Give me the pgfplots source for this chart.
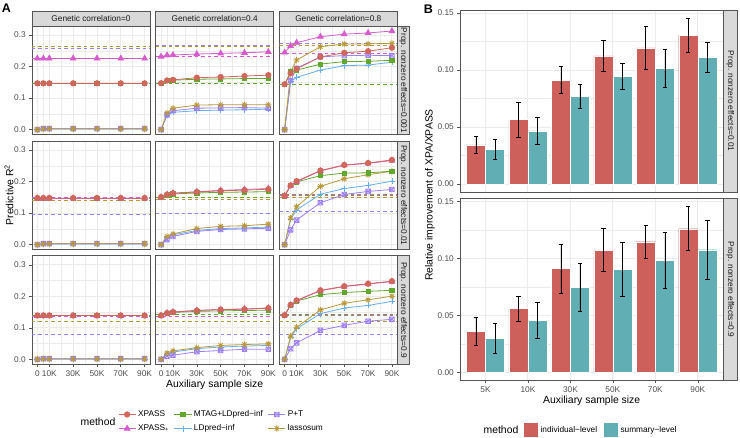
\documentclass[border=0pt]{standalone}
\usepackage{pgfplots}
\usepackage{pgfplotstable}
\pgfplotsset{compat=1.18}
\usepackage{fontspec}
\setmainfont{Liberation Sans}

\definecolor{cXP}{RGB}{208,103,92}
\definecolor{cXPp}{RGB}{214,92,205}
\definecolor{cMT}{RGB}{98,167,46}
\definecolor{cLD}{RGB}{100,176,240}
\definecolor{cPT}{RGB}{156,126,246}
\definecolor{cLS}{RGB}{184,152,56}
\definecolor{gridc}{RGB}{235,235,235}
\definecolor{framec}{RGB}{85,85,85}
\definecolor{stripc}{RGB}{217,217,217}
\definecolor{tickc}{RGB}{77,77,77}
\definecolor{barR}{RGB}{205,96,91}
\definecolor{barT}{RGB}{97,174,181}

\pgfdeclareplotmark{boxx}{%
  \pgfpathrectangle{\pgfpoint{-\pgfplotmarksize}{-\pgfplotmarksize}}{\pgfpoint{2\pgfplotmarksize}{2\pgfplotmarksize}}%
  \pgfpathmoveto{\pgfpoint{-\pgfplotmarksize}{-\pgfplotmarksize}}\pgfpathlineto{\pgfpoint{\pgfplotmarksize}{\pgfplotmarksize}}%
  \pgfpathmoveto{\pgfpoint{-\pgfplotmarksize}{\pgfplotmarksize}}\pgfpathlineto{\pgfpoint{\pgfplotmarksize}{-\pgfplotmarksize}}%
  \pgfusepathqstroke}
\pgfdeclareplotmark{star8}{%
  \pgfpathmoveto{\pgfpoint{-\pgfplotmarksize}{0pt}}\pgfpathlineto{\pgfpoint{\pgfplotmarksize}{0pt}}%
  \pgfpathmoveto{\pgfpoint{0pt}{-\pgfplotmarksize}}\pgfpathlineto{\pgfpoint{0pt}{\pgfplotmarksize}}%
  \pgfpathmoveto{\pgfpoint{-.7\pgfplotmarksize}{-.7\pgfplotmarksize}}\pgfpathlineto{\pgfpoint{.7\pgfplotmarksize}{.7\pgfplotmarksize}}%
  \pgfpathmoveto{\pgfpoint{-.7\pgfplotmarksize}{.7\pgfplotmarksize}}\pgfpathlineto{\pgfpoint{.7\pgfplotmarksize}{-.7\pgfplotmarksize}}%
  \pgfusepathqstroke}

% panel A data: x in thousands
\pgfplotstableread{
x xp xpp mt ld pt ls
0 0.147 0.226 0.147 0.000 0.000 0.000
5 0.147 0.226 0.147 0.002 0.003 0.002
10 0.147 0.226 0.147 0.002 0.003 0.003
30 0.147 0.226 0.147 0.002 0.003 0.003
50 0.147 0.226 0.147 0.002 0.003 0.003
70 0.147 0.226 0.147 0.002 0.003 0.003
90 0.147 0.226 0.147 0.002 0.003 0.003
}\taa
\pgfplotstableread{
x xp xpp mt ld pt ls
0 0.1475 0.232 0.1475 0 0 0
5 0.156 0.236 0.155 0.045 0.047 0.053
10 0.158 0.237 0.157 0.055 0.060 0.068
30 0.165 0.240 0.160 0.060 0.068 0.078
50 0.167 0.242 0.161 0.062 0.069 0.079
70 0.170 0.244 0.162 0.063 0.070 0.079
90 0.173 0.247 0.162 0.065 0.068 0.079
}\tab
\pgfplotstableread{
x xp xpp mt ld pt ls
0 0.144 0.245 0.144 0 0 0
5 0.179 0.266 0.184 0.153 0.155 0.184
10 0.193 0.276 0.189 0.166 0.195 0.221
30 0.231 0.295 0.208 0.189 0.231 0.263
50 0.244 0.303 0.216 0.203 0.235 0.272
70 0.249 0.307 0.217 0.205 0.236 0.272
90 0.260 0.313 0.220 0.214 0.235 0.274
}\tac
\pgfplotstableread{
x xp xpp mt ld pt ls
0 0.148 0.147 0.147 0.000 0.000 0.000
5 0.148 0.147 0.147 0.002 0.003 0.002
10 0.148 0.147 0.147 0.002 0.003 0.003
30 0.148 0.147 0.147 0.002 0.003 0.003
50 0.148 0.147 0.147 0.002 0.003 0.003
70 0.148 0.147 0.147 0.002 0.003 0.003
90 0.148 0.147 0.147 0.002 0.003 0.003
}\tba
\pgfplotstableread{
x xp xpp mt ld pt ls
0 0.151 0.151 0.151 0 0 0
5 0.159 0.159 0.158 0.022 0.016 0.026
10 0.163 0.163 0.161 0.031 0.026 0.034
30 0.167 0.168 0.164 0.045 0.042 0.051
50 0.171 0.172 0.166 0.051 0.048 0.058
70 0.173 0.175 0.167 0.053 0.050 0.060
90 0.176 0.178 0.168 0.056 0.052 0.065
}\tbb
\pgfplotstableread{
x xp xpp mt ld pt ls
0 0.155 0.155 0.155 0 0 0
5 0.188 0.187 0.187 0.080 0.047 0.084
10 0.2015 0.200 0.199 0.110 0.078 0.120
30 0.235 0.234 0.219 0.160 0.133 0.185
50 0.253 0.252 0.227 0.178 0.159 0.209
70 0.259 0.258 0.228 0.188 0.169 0.222
90 0.269 0.267 0.233 0.2015 0.175 0.233
}\tbc
\pgfplotstableread{
x xp xpp mt ld pt ls
0 0.139 0.138 0.139 0.000 0.000 0.000
5 0.139 0.138 0.139 0.001 0.002 0.001
10 0.139 0.138 0.139 0.001 0.002 0.001
30 0.139 0.138 0.139 0.001 0.002 0.001
50 0.139 0.138 0.139 0.001 0.002 0.001
70 0.139 0.138 0.139 0.001 0.002 0.001
90 0.139 0.138 0.139 0.001 0.002 0.001
}\tca
\pgfplotstableread{
x xp xpp mt ld pt ls
0 0.139 0.139 0.139 0 0 0
5 0.147 0.147 0.146 0.016 0.010 0.020
10 0.150 0.150 0.149 0.023 0.013 0.027
30 0.155 0.155 0.152 0.034 0.024 0.037
50 0.158 0.158 0.154 0.039 0.028 0.044
70 0.159 0.160 0.155 0.042 0.032 0.047
90 0.1625 0.163 0.156 0.044 0.032 0.049
}\tcb
\pgfplotstableread{
x xp xpp mt ld pt ls
0 0.140 0.140 0.140 0 0 0
5 0.173 0.172 0.172 0.070 0.034 0.073
10 0.187 0.186 0.185 0.097 0.052 0.102
30 0.219 0.218 0.205 0.145 0.092 0.157
50 0.232 0.231 0.212 0.163 0.108 0.178
70 0.240 0.239 0.216 0.171 0.121 0.189
90 0.248 0.247 0.219 0.184 0.127 0.2005
}\tcc

\pgfplotsset{
  gg/.style={scale only axis, anchor=north west, grid=both,
    major grid style={draw=gridc, line width=0.9pt},
    minor grid style={draw=gridc, line width=0.45pt},
    axis line style={draw=framec, line width=0.6pt},
    tick align=outside, major tick length=2.7pt, minor tick length=0pt,
    tick style={draw=framec, line width=0.6pt},
    xtick pos=left, ytick pos=left,
    tick label style={font=\fontsize{8.3}{9}\selectfont, text=tickc},
    /pgf/number format/assume math mode=true},
  pA/.style={gg, width=118pt, height=108.6pt,
    xmin=-4.5, xmax=94.5, ymin=-0.0158, ymax=0.329,
    xtick={0,10,30,50,70,90}, minor xtick={5,20,40,60,80},
    ytick={0,0.1,0.2,0.3}, minor ytick={0.05,0.15,0.25},
    xticklabels={0,10K,30K,50K,70K,90K}, yticklabels={0.0,0.1,0.2,0.3}},
  pB/.style={gg, width=263.3pt, height=182pt,
    xmin=0.4, xmax=6.6, ymin=-0.007, ymax=0.1526,
    xtick={1,2,3,4,5,6}, xticklabels={5K,10K,30K,50K,70K,90K},
    ytick={0,0.05,0.1,0.15}, yticklabels={0.00,0.05,0.10,0.15},
    minor ytick={0.025,0.075,0.125}},
  nox/.style={xticklabels={}, xmajorticks=false},
  noy/.style={yticklabels={}, ymajorticks=false},
  ln/.style={line width=0.8pt, mark options={solid}},
  sXP/.style={ln, color=cXP, mark=*, mark size=2.7pt},
  sXPp/.style={ln, color=cXPp, mark=triangle*, mark size=3.2pt},
  sMT/.style={ln, color=cMT, mark=square*, mark size=2.1pt},
  sLD/.style={ln, color=cLD, mark=+, mark size=3pt},
  sPT/.style={ln, color=cPT, mark=boxx, mark size=2.3pt},
  sLS/.style={ln, color=cLS, mark=star8, mark size=3.1pt},
  dl/.style={line width=0.75pt, dash pattern=on 3.5pt off 3pt, forget plot},
  bE/.style={error bars/y dir=both, error bars/y explicit,
    error bars/error bar style={black, line width=0.7pt},
    error bars/error mark options={black, line width=0.7pt, mark size=2.2pt, rotate=90}},
  bR/.style={ybar, bar width=0.45, bar shift=0, fill=barR, draw=white, line width=0.4pt, bE},
  bT/.style={bR, fill=barT},
}

\newcommand\series[1]{%
  \addplot[sLD] table[x=x,y=ld]{#1};
  \addplot[sPT] table[x=x,y=pt]{#1};
  \addplot[sLS] table[x=x,y=ls]{#1};
  \addplot[sMT] table[x=x,y=mt]{#1};
  \addplot[sXPp] table[x=x,y=xpp]{#1};
  \addplot[sXP] table[x=x,y=xp]{#1};}
\newcommand\hl[4]{%
  \addplot[dl, cPT] coordinates {(-4.5,#4) (94.5,#4)};
  \addplot[dl, cLS] coordinates {(-4.5,#3) (94.5,#3)};
  \addplot[dl, cXPp] coordinates {(-4.5,#2) (94.5,#2)};
  \addplot[dl, cMT] coordinates {(-4.5,#1) (94.5,#1)};}

\tikzset{
  strip/.style={fill=stripc, draw=framec, line width=0.6pt},
  stxt/.style={font=\fontsize{8.3}{9}\selectfont, text=black!90},
  ttl/.style={font=\fontsize{10.4}{12}\selectfont},
}

\begin{document}
\begin{tikzpicture}
\useasboundingbox (0pt,0pt) rectangle (740pt,-438pt);

% ---------- panel A ----------
\begin{axis}[pA, nox, at={(32pt,-26pt)}]
\hl{0.147}{0.227}{0.264}{0.259}\series{\taa}
\end{axis}
\begin{axis}[pA, nox, noy, at={(155.7pt,-26pt)}]
\hl{0.147}{0.231}{0.263}{0.268}\series{\tab}
\end{axis}
\begin{axis}[pA, nox, noy, at={(279.3pt,-26pt)}]
\hl{0.144}{0.242}{0.266}{0.274}\series{\tac}
\end{axis}

\begin{axis}[pA, nox, at={(32pt,-141pt)}]
\hl{0.147}{0.149}{0.141}{0.097}\series{\tba}
\end{axis}
\begin{axis}[pA, nox, noy, at={(155.7pt,-141pt)}]
\hl{0.150}{0.151}{0.143}{0.100}\series{\tbb}
\end{axis}
\begin{axis}[pA, nox, noy, at={(279.3pt,-141pt)}]
\hl{0.155}{0.158}{0.150}{0.104}\series{\tbc}
\end{axis}

\begin{axis}[pA, at={(32pt,-255.7pt)}]
\hl{0.139}{0.137}{0.120}{0.078}\series{\tca}
\end{axis}
\begin{axis}[pA, noy, at={(155.7pt,-255.7pt)}]
\hl{0.1415}{0.136}{0.120}{0.078}\series{\tcb}
\end{axis}
\begin{axis}[pA, noy, at={(279.3pt,-255.7pt)}]
\hl{0.1415}{0.139}{0.120}{0.078}\series{\tcc}
\end{axis}

% strips A
\draw[strip] (32pt,-11pt) rectangle (150pt,-26pt);
\node[stxt] at (91pt,-18.5pt) {Genetic correlation=0};
\draw[strip] (155.7pt,-11pt) rectangle (273.7pt,-26pt);
\node[stxt] at (214.7pt,-18.5pt) {Genetic correlation=0.4};
\draw[strip] (279.3pt,-11pt) rectangle (397.3pt,-26pt);
\node[stxt] at (338.3pt,-18.5pt) {Genetic correlation=0.8};
\draw[strip] (397.3pt,-26pt) rectangle (409.3pt,-134.6pt);
\node[stxt, rotate=-90] at (403.3pt,-80.3pt) {Prop. nonzero effects=0.001};
\draw[strip] (397.3pt,-141pt) rectangle (409.3pt,-249.6pt);
\node[stxt, rotate=-90] at (403.3pt,-195.3pt) {Prop. nonzero effects=0.01};
\draw[strip] (397.3pt,-255.7pt) rectangle (409.3pt,-364.3pt);
\node[stxt, rotate=-90] at (403.3pt,-310pt) {Prop. nonzero effects=0.9};

\node[ttl, rotate=90] at (9pt,-195pt) {Predictive R\textsuperscript{2}};
\node[ttl] at (214.7pt,-385pt) {Auxiliary sample size};
\node[font=\fontsize{12.5}{14}\selectfont\bfseries] at (6.5pt,-8.5pt) {A};

% legend A
\node[ttl] at (98pt,-422pt) {method};
\begin{axis}[hide axis, scale only axis, width=1pt, height=1pt, anchor=south west,
  at={(118pt,-421.5pt)}, xmin=0, xmax=1, ymin=0, ymax=1, legend columns=3,
  legend style={at={(0,0)}, anchor=west, draw=none, fill=none, inner sep=0pt,
    font=\fontsize{8.3}{9}\selectfont, row sep=2.5pt,
    /tikz/every even column/.append style={column sep=3pt}},
  legend cell align=left]
\addlegendimage{sXP}\addlegendentry{XPASS}
\addlegendimage{sMT}\addlegendentry{MTAG+LDpred−inf}
\addlegendimage{sPT}\addlegendentry{P+T}
\addlegendimage{sXPp}\addlegendentry{XPASS\textsubscript{+}}
\addlegendimage{sLD}\addlegendentry{LDpred−inf}
\addlegendimage{sLS}\addlegendentry{lassosum}
\end{axis}

% ---------- panel B ----------
% bars sit at category -/+ 0.225 (dodged), categories at 1..6
\begin{axis}[pB, nox, at={(460pt,-10pt)}]
\addplot[bR] coordinates {(0.775,0.0344) +- (0,0.0071) (1.775,0.0565) +- (0,0.0153) (2.775,0.0912) +- (0,0.0119)
  (3.775,0.1124) +- (0,0.0133) (4.775,0.1194) +- (0,0.0191) (5.775,0.1306) +- (0,0.0149)};
\addplot[bT] coordinates {(1.225,0.0303) +- (0,0.0088) (2.225,0.0465) +- (0,0.0120) (3.225,0.0768) +- (0,0.0106)
  (4.225,0.0944) +- (0,0.0115) (5.225,0.1015) +- (0,0.0166) (6.225,0.1112) +- (0,0.0132)};
\end{axis}
\begin{axis}[pB, at={(460pt,-198.5pt)}]
\addplot[bR] coordinates {(0.775,0.0359) +- (0,0.0123) (1.775,0.0560) +- (0,0.0112) (2.775,0.0911) +- (0,0.0215)
  (3.775,0.1074) +- (0,0.0187) (4.775,0.1147) +- (0,0.0145) (5.775,0.1261) +- (0,0.0193)};
\addplot[bT] coordinates {(1.225,0.0300) +- (0,0.0134) (2.225,0.0455) +- (0,0.0157) (3.225,0.0747) +- (0,0.0210)
  (4.225,0.0905) +- (0,0.0235) (5.225,0.0981) +- (0,0.0247) (6.225,0.1077) +- (0,0.0260)};
\end{axis}

\draw[strip] (723.3pt,-10pt) rectangle (737pt,-192pt);
\node[stxt, rotate=-90] at (730.2pt,-101pt) {Prop. nonzero effects=0.01};
\draw[strip] (723.3pt,-198.5pt) rectangle (737pt,-380.5pt);
\node[stxt, rotate=-90] at (730.2pt,-289.5pt) {Prop. nonzero effects=0.9};

\node[ttl, rotate=90] at (430pt,-195pt) {Relative improvement of XPA/XPASS};
\node[ttl] at (591.7pt,-401pt) {Auxiliary sample size};
\node[font=\fontsize{12.5}{14}\selectfont\bfseries] at (428.5pt,-9pt) {B};

% legend B
\node[ttl] at (501pt,-430pt) {method};
\begin{axis}[hide axis, scale only axis, width=1pt, height=1pt, anchor=south west,
  at={(523pt,-430pt)}, xmin=0, xmax=1, ymin=0, ymax=1, legend columns=2,
  legend style={at={(0,0)}, anchor=west, draw=none, fill=none, inner sep=0pt,
    font=\fontsize{8.3}{9}\selectfont,
    /tikz/every even column/.append style={column sep=4pt}},
  legend cell align=left]
\addlegendimage{legend image code/.code={\draw[fill=barR, draw=white, line width=0.4pt] (0pt,-7.5pt) rectangle (15pt,7.5pt);}}
\addlegendentry{individual−level}
\addlegendimage{legend image code/.code={\draw[fill=barT, draw=white, line width=0.4pt] (0pt,-7.5pt) rectangle (15pt,7.5pt);}}
\addlegendentry{summary−level}
\end{axis}
\end{tikzpicture}
\end{document}
